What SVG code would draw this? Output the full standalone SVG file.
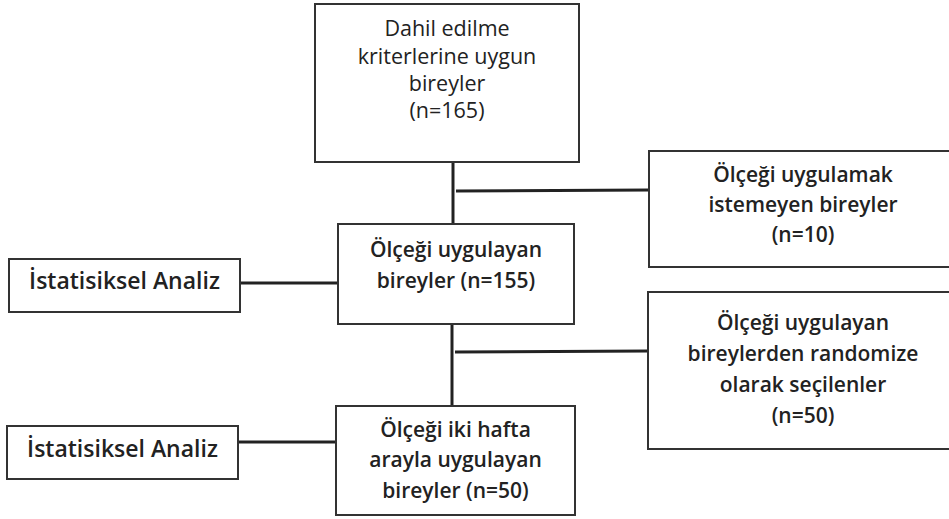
<svg xmlns="http://www.w3.org/2000/svg" width="949" height="519" viewBox="0 0 949 519">
<style>
.box{fill:#fff;stroke:#333;stroke-width:2}
.c{stroke:#222;stroke-width:3;fill:none}
text{font-family:"Open Sans","Noto Sans",sans-serif;fill:#222;text-anchor:middle}
.t{font-size:21.5px;font-weight:400}
.m{font-size:21px;font-weight:600}
.s{font-size:23px;font-weight:600}
</style>
<rect width="949" height="519" fill="#fff"/>
<g id="connectors">
<line class="c" x1="453" y1="162" x2="453" y2="224"/>
<line class="c" x1="456" y1="191" x2="649" y2="190"/>
<line class="c" x1="452" y1="324" x2="452" y2="406"/>
<line class="c" x1="455" y1="352" x2="648" y2="351"/>
<line class="c" x1="240" y1="283" x2="338" y2="283"/>
<line class="c" x1="238" y1="442" x2="336" y2="442"/>
</g>
<g id="n-dahil">
<rect class="box" x="315" y="4" width="264" height="158"/>
<text class="t" x="447" y="36">Dahil edilme</text>
<text class="t" x="447" y="64">kriterlerine uygun</text>
<text class="t" x="447" y="91">bireyler</text>
<text class="t" x="447" y="118">(n=165)</text>
</g>
<g id="n-istemeyen">
<rect class="box" x="649" y="151" width="310" height="116"/>
<text class="m" x="803" y="182">Ölçeği uygulamak</text>
<text class="m" x="803" y="212">istemeyen bireyler</text>
<text class="m" x="803" y="242">(n=10)</text>
</g>
<g id="n-uygulayan">
<rect class="box" x="338" y="224" width="236" height="100"/>
<text class="m" x="456" y="257">Ölçeği uygulayan</text>
<text class="m" x="456" y="288">bireyler (n=155)</text>
</g>
<g id="n-analiz1">
<rect class="box" x="9" y="259" width="231" height="53"/>
<text class="s" x="124.5" y="289">İstatisiksel Analiz</text>
</g>
<g id="n-randomize">
<rect class="box" x="648" y="292" width="311" height="157"/>
<text class="m" x="803" y="330">Ölçeği uygulayan</text>
<text class="m" x="803" y="361">bireylerden randomize</text>
<text class="m" x="803" y="392">olarak seçilenler</text>
<text class="m" x="803" y="423">(n=50)</text>
</g>
<g id="n-ikihafta">
<rect class="box" x="336" y="406" width="239" height="109"/>
<text class="m" x="455.5" y="437">Ölçeği iki hafta</text>
<text class="m" x="455.5" y="467">arayla uygulayan</text>
<text class="m" x="455.5" y="498">bireyler (n=50)</text>
</g>
<g id="n-analiz2">
<rect class="box" x="7" y="426" width="231" height="53"/>
<text class="s" x="122.5" y="457">İstatisiksel Analiz</text>
</g>
</svg>
